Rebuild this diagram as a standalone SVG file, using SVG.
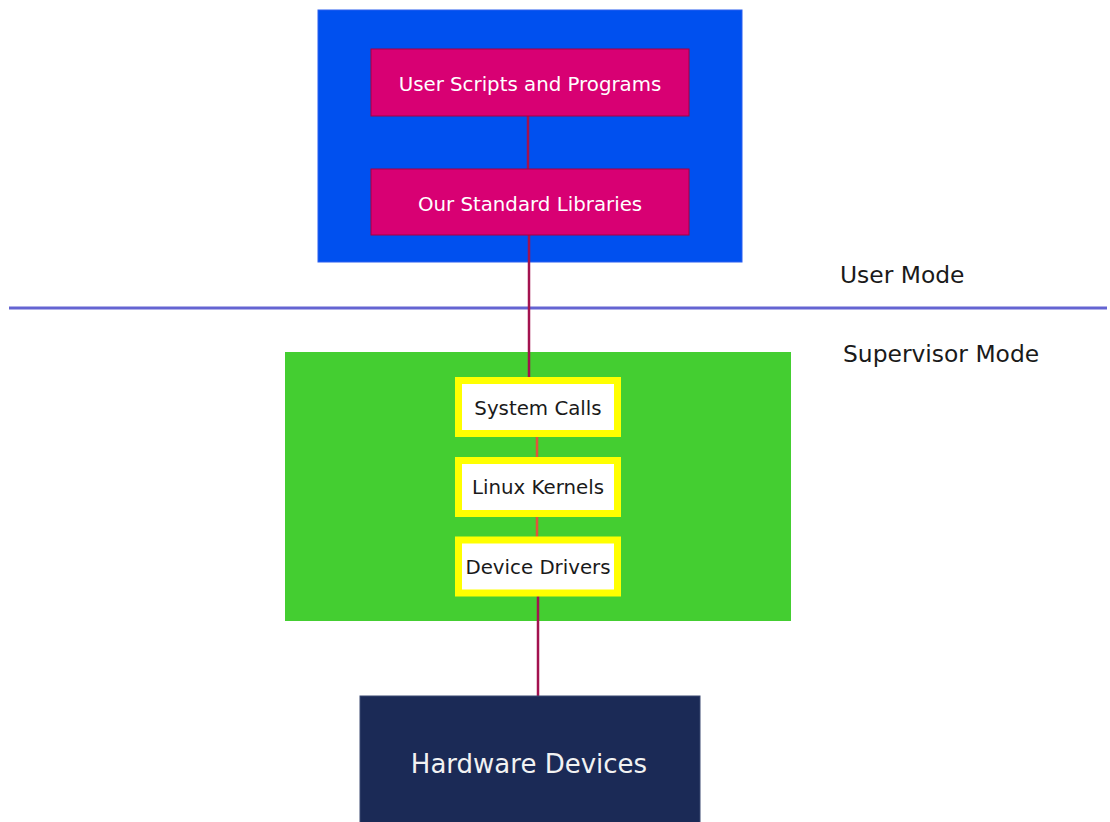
<svg xmlns="http://www.w3.org/2000/svg" width="1110" height="822" viewBox="0 0 1110 822">
<style>
text{font-family:"DejaVu Sans",Verdana,sans-serif;text-anchor:middle}
.pink{fill:#d80073;stroke:#a50040;stroke-width:1}
.pt{fill:#ffffff;font-size:19.8px}
.yb{fill:#ffffff;stroke:#ffff00;stroke-width:7}
.yt{fill:#1a1a1a;font-size:19.8px}
.mode{fill:#1a1a1a;font-size:23.4px;text-anchor:start}
.c1{stroke:#a3124f;stroke-width:2.5;fill:none}
.c2{stroke:#e0553a;stroke-width:2.5;fill:none}
</style>
<rect width="1110" height="822" fill="#ffffff"/>
<g id="user-space">
<rect x="318" y="10" width="424" height="252" fill="#0050ef" stroke="#2a5ef0" stroke-width="1"/>
</g>
<g id="supervisor-space">
<rect x="285" y="352" width="506" height="269" fill="#44ce31"/>
</g>
<g id="mode-divider">
<line x1="9" y1="308" x2="1107" y2="308" stroke="#6464d2" stroke-width="3"/>
</g>
<g id="label-user-mode"><text class="mode" x="840" y="283">User Mode</text></g>
<g id="label-supervisor-mode"><text class="mode" x="843" y="362">Supervisor Mode</text></g>
<g id="connectors">
<line class="c1" x1="528" y1="116" x2="528" y2="169" stroke="#b2335f"/>
<line class="c1" x1="529" y1="235" x2="529" y2="378"/>
<line class="c2" x1="537" y1="437" x2="537" y2="457"/>
<line class="c2" x1="537" y1="516" x2="537" y2="537"/>
<line class="c1" x1="538" y1="596" x2="538" y2="696" stroke="#b01c58"/>
</g>
<g id="user-scripts">
<rect class="pink" x="371" y="49" width="318" height="67"/>
<text class="pt" x="530" y="91">User Scripts and Programs</text>
</g>
<g id="standard-libraries">
<rect class="pink" x="371" y="169" width="318" height="66"/>
<text class="pt" x="530" y="211">Our Standard Libraries</text>
</g>
<g id="system-calls">
<rect class="yb" x="458.5" y="380.5" width="159" height="53"/>
<text class="yt" x="538" y="415">System Calls</text>
</g>
<g id="linux-kernels">
<rect class="yb" x="458.5" y="460.5" width="159" height="53"/>
<text class="yt" x="538" y="494">Linux Kernels</text>
</g>
<g id="device-drivers">
<rect class="yb" x="458.5" y="540" width="159" height="53"/>
<text class="yt" x="538" y="574">Device Drivers</text>
</g>
<g id="hardware-devices">
<rect x="360" y="696" width="340" height="130" fill="#1b2a56" stroke="#3a4870" stroke-width="1"/>
<text x="529" y="773" fill="#f2f2f2" font-size="26px">Hardware Devices</text>
</g>
</svg>
